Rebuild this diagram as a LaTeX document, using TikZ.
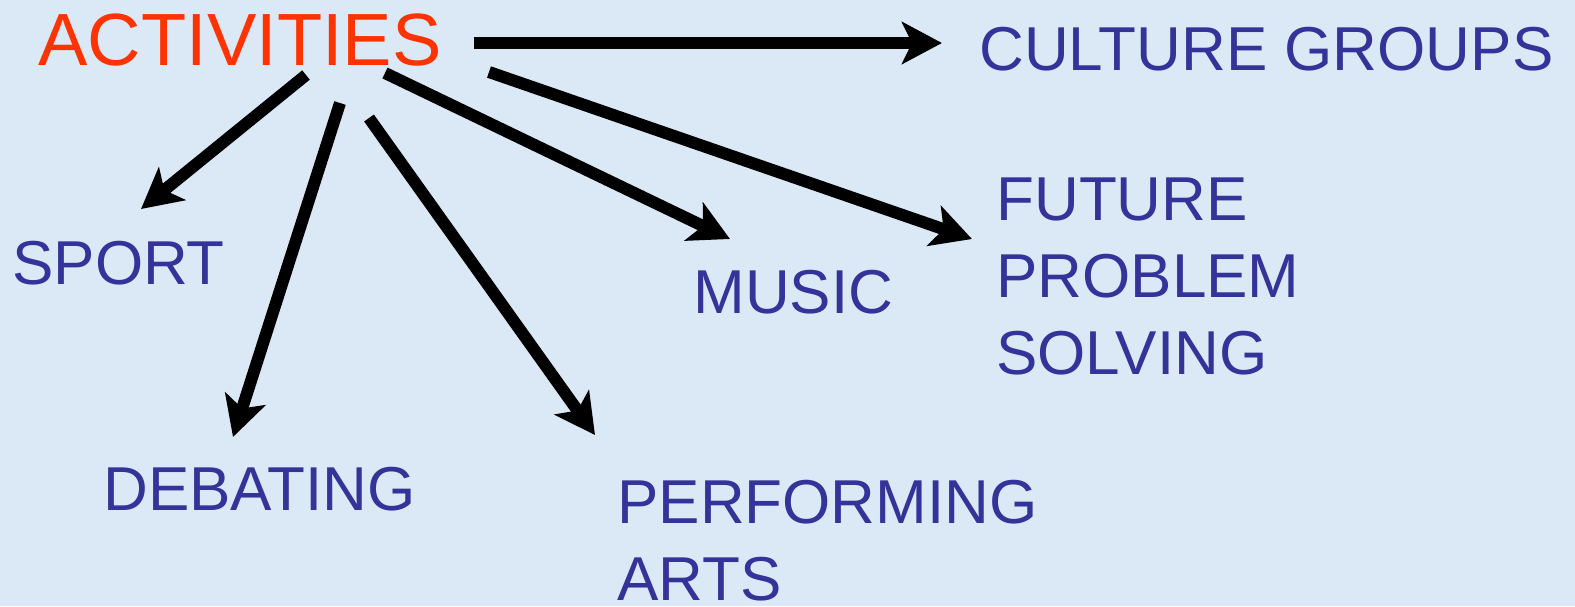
\documentclass[tikz,border=0pt]{standalone}
\usepackage{fontspec}
\setmainfont{Liberation Sans}
\usepackage{tikz}
\usetikzlibrary{positioning, calc, arrows.meta}

\definecolor{bgblue}{RGB}{219,233,246}
\definecolor{headred}{RGB}{255,51,0}
\definecolor{itemblue}{RGB}{51,51,153}

\tikzset{
    head/.style={inner sep=0pt, text=headred, font=\fontsize{37pt}{44pt}\selectfont},
    item/.style={inner sep=0pt, text=itemblue, align=left,
        font=\fontsize{31pt}{38.5pt}\selectfont, anchor=base west},
    link/.style={line width=6pt, -{Stealth[length=20pt, width=21pt, inset=5pt]}}
}

\begin{document}
\begin{tikzpicture}[x=0.5pt, y=-0.5pt]
    \fill[bgblue] (0,0) rectangle (1575,606);
    \useasboundingbox (0,0) rectangle (1575,606);

    \node [head, anchor=base] (act) at (240,65) {ACTIVITIES};

    \node [item] (culture) at (979,70) {CULTURE GROUPS};
    \node [item] (sport) at (12,284) {SPORT};
    \node [item] (music) at (693,313) {MUSIC};
    \node [item] (future) at (996,374) {FUTURE\\PROBLEM\\SOLVING};
    \node [item] (debating) at (103,510) {DEBATING};
    \node [item] (performing) at (617,600) {PERFORMING\\ARTS};

    %Arrows
    \draw[link] ($(act.base)+(234,-22)$) -- ($(culture.base west)+(-37,-27)$);
    \draw[link] ($(act.base)+(66,10)$) -- ($(sport.base west)+(129,-75)$);
    \draw[link] ($(act.base)+(100,38)$) -- ($(debating.base west)+(130,-73)$);
    \draw[link] ($(act.base)+(129,53)$) -- ($(performing.base west)+(-22,-165)$);
    \draw[link] ($(act.base)+(145,8)$) -- ($(music.base west)+(37,-74)$);
    \draw[link] ($(act.base)+(249,7)$) -- ($(future.base west)+(-24,-135)$);
\end{tikzpicture}
\end{document}
